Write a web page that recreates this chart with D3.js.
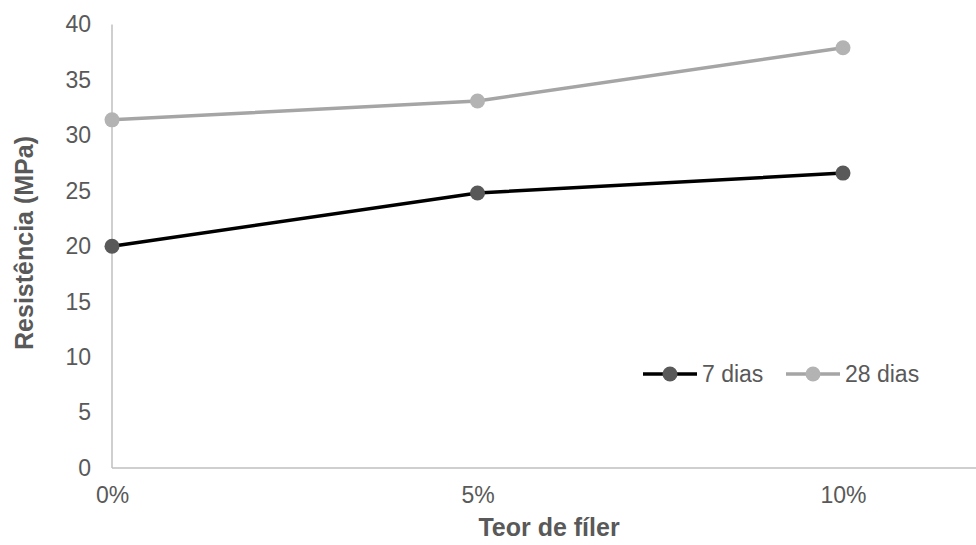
<!DOCTYPE html>
<html>
<head>
<meta charset="utf-8">
<script src="https://cdn.jsdelivr.net/npm/d3@7"></script>
<style>
  body { margin: 0; background: #fff; }
  svg { font-family: "Liberation Sans", Arial, sans-serif; }
  .tick text { fill: #595959; font-size: 23px; }
  .title { fill: #595959; font-size: 25px; font-weight: bold; }
  .legend text { fill: #595959; font-size: 23px; }
</style>
</head>
<body>
<svg id="chart"></svg>
<script>
const width = 976;
const height = 545;

const categories = [0, 5, 10];
const tickLabels = ["0%", "5%", "10%"];
const yTicks = [0, 5, 10, 15, 20, 25, 30, 35, 40];
const dias7 = [20.0, 24.8, 26.6];
const dias28 = [31.4, 33.1, 37.9];

const series = [
  { name: "7 dias", values: dias7, line: "#000000", dot: "#595959" },
  { name: "28 dias", values: dias28, line: "#a5a5a5", dot: "#b3b3b3" }
];

const svg = d3.select("#chart").attr("width", width).attr("height", height);

const x = d3.scaleLinear().domain([0, 10]).range([112, 843]);
const y = d3.scaleLinear().domain([0, 40]).range([468, 24.5]);

// axes
const xAxis = svg.append("g")
  .attr("transform", `translate(0, ${y(0)})`)
  .call(d3.axisBottom(x).tickValues(categories).tickFormat((d, i) => tickLabels[i]).tickSize(0).tickPadding(19));
xAxis.select(".domain").remove();
xAxis.selectAll(".tick text").attr("font-family", null).attr("font-size", null);

const yAxis = svg.append("g")
  .attr("transform", `translate(${x(0)}, 0)`)
  .call(d3.axisLeft(y).tickValues(yTicks).tickSize(0).tickPadding(21));
yAxis.select(".domain").remove();
yAxis.selectAll(".tick text").attr("font-family", null).attr("font-size", null);

svg.append("line")
  .attr("x1", x(0)).attr("x2", width)
  .attr("y1", y(0)).attr("y2", y(0))
  .attr("stroke", "#bfbfbf").attr("stroke-width", 1.5);
svg.append("line")
  .attr("x1", x(0)).attr("x2", x(0))
  .attr("y1", y(0)).attr("y2", y(40))
  .attr("stroke", "#bfbfbf").attr("stroke-width", 1.5);

// lines and points
const line = d3.line()
  .x((d, i) => x(categories[i]))
  .y(d => y(d));

series.forEach(s => {
  svg.append("path")
    .datum(s.values)
    .attr("fill", "none")
    .attr("stroke", s.line)
    .attr("stroke-width", 3.5)
    .attr("d", line);

  svg.selectAll(null)
    .data(s.values)
    .enter()
    .append("circle")
    .attr("cx", (d, i) => x(categories[i]))
    .attr("cy", d => y(d))
    .attr("r", 7.5)
    .attr("fill", s.dot);
});

// axis titles
svg.append("text")
  .attr("class", "title")
  .attr("x", 549)
  .attr("y", 536)
  .attr("text-anchor", "middle")
  .text("Teor de fíler");

svg.append("text")
  .attr("class", "title")
  .attr("transform", "translate(33, 243) rotate(-90)")
  .attr("text-anchor", "middle")
  .text("Resistência (MPa)");

// legend
const legend = svg.append("g").attr("class", "legend");
const legendX = [643, 786];
series.forEach((s, i) => {
  const g = legend.append("g").attr("transform", `translate(${legendX[i]}, 374)`);
  g.append("line").attr("x1", 0).attr("x2", 54).attr("y1", 0).attr("y2", 0)
    .attr("stroke", s.line).attr("stroke-width", 3.5);
  g.append("circle").attr("cx", 27).attr("cy", 0).attr("r", 7.5).attr("fill", s.dot);
  g.append("text").attr("x", 59).attr("y", 8).text(s.name);
});
</script>
</body>
</html>
